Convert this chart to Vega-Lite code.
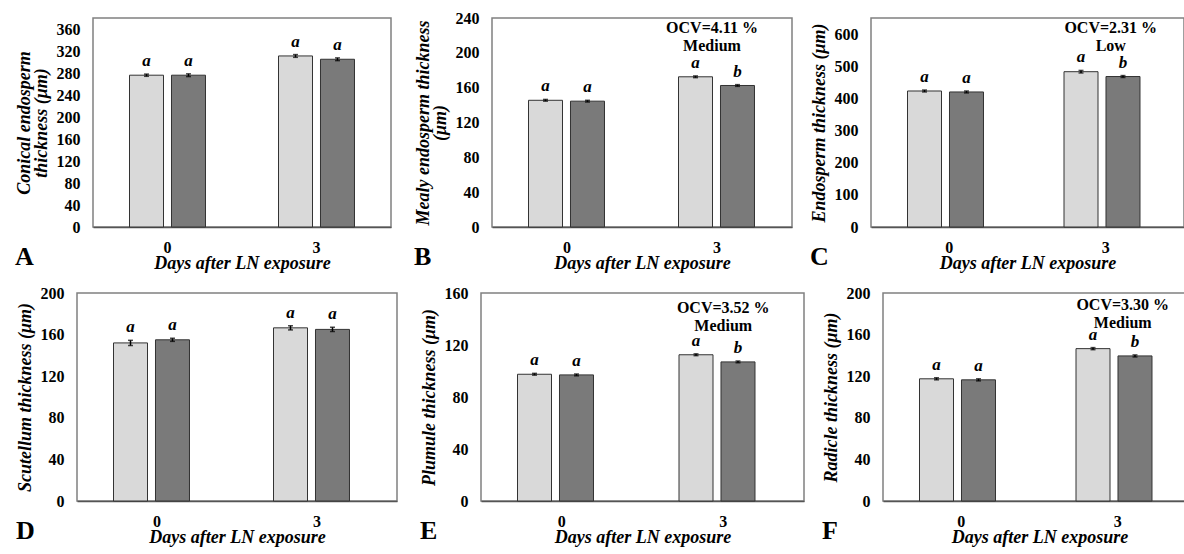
{
  "$schema": "https://vega.github.io/schema/vega-lite/v6.json",
  "padding": {"left": 0, "top": 9, "right": 0, "bottom": 0},
  "background": "white",
  "datasets": {
    "bars": [
      {"panel": "A", "day": "0", "g": "1", "value": 276, "lo": 274, "hi": 278, "letter": "a"},
      {"panel": "A", "day": "0", "g": "2", "value": 276, "lo": 273.5, "hi": 278.5, "letter": "a"},
      {"panel": "A", "day": "3", "g": "1", "value": 311, "lo": 308.5, "hi": 313.5, "letter": "a"},
      {"panel": "A", "day": "3", "g": "2", "value": 305, "lo": 302.5, "hi": 307.5, "letter": "a"},
      {"panel": "B", "day": "0", "g": "1", "value": 145.5, "lo": 144.5, "hi": 146.5, "letter": "a"},
      {"panel": "B", "day": "0", "g": "2", "value": 144.5, "lo": 143.5, "hi": 145.5, "letter": "a"},
      {"panel": "B", "day": "3", "g": "1", "value": 172.5, "lo": 171.5, "hi": 173.5, "letter": "a"},
      {"panel": "B", "day": "3", "g": "2", "value": 162.5, "lo": 161.5, "hi": 163.5, "letter": "b"},
      {"panel": "C", "day": "0", "g": "1", "value": 423, "lo": 420, "hi": 426, "letter": "a"},
      {"panel": "C", "day": "0", "g": "2", "value": 420, "lo": 417, "hi": 423, "letter": "a"},
      {"panel": "C", "day": "3", "g": "1", "value": 483, "lo": 479, "hi": 487, "letter": "a"},
      {"panel": "C", "day": "3", "g": "2", "value": 468, "lo": 465, "hi": 471, "letter": "b"},
      {"panel": "D", "day": "0", "g": "1", "value": 152, "lo": 149.5, "hi": 154.5, "letter": "a"},
      {"panel": "D", "day": "0", "g": "2", "value": 155, "lo": 153.5, "hi": 156.5, "letter": "a"},
      {"panel": "D", "day": "3", "g": "1", "value": 166.5, "lo": 164.5, "hi": 168.5, "letter": "a"},
      {"panel": "D", "day": "3", "g": "2", "value": 165, "lo": 163, "hi": 167, "letter": "a"},
      {"panel": "E", "day": "0", "g": "1", "value": 97.5, "lo": 96.8, "hi": 98.2, "letter": "a"},
      {"panel": "E", "day": "0", "g": "2", "value": 97, "lo": 96.3, "hi": 97.7, "letter": "a"},
      {"panel": "E", "day": "3", "g": "1", "value": 112.5, "lo": 111.8, "hi": 113.2, "letter": "a"},
      {"panel": "E", "day": "3", "g": "2", "value": 107, "lo": 106.3, "hi": 107.7, "letter": "b"},
      {"panel": "F", "day": "0", "g": "1", "value": 117.5, "lo": 116.5, "hi": 118.5, "letter": "a"},
      {"panel": "F", "day": "0", "g": "2", "value": 116.5, "lo": 115.5, "hi": 117.5, "letter": "a"},
      {"panel": "F", "day": "3", "g": "1", "value": 146.5, "lo": 145.5, "hi": 147.5, "letter": "a"},
      {"panel": "F", "day": "3", "g": "2", "value": 139.5, "lo": 138.5, "hi": 140.5, "letter": "b"}
    ],
    "notes": [
      {"panel": "B", "day": "3", "note": "OCV=4.11 %\nMedium", "y": 238},
      {"panel": "C", "day": "3", "note": "OCV=2.31 %\nLow", "y": 644},
      {"panel": "E", "day": "3", "note": "OCV=3.52 %\nMedium", "y": 155},
      {"panel": "F", "day": "3", "note": "OCV=3.30 %\nMedium", "y": 196}
    ],
    "blank": [{"s": ""}]
  },
  "config": {
    "font": "Liberation Serif",
    "view": {"stroke": "#808080", "strokeWidth": 1.5},
    "axis": {
      "labelFont": "Liberation Serif", "labelFontWeight": "bold", "labelFontSize": 16, "labelColor": "black", "labelOverlap": false,
      "titleFont": "Liberation Serif", "titleFontStyle": "italic", "titleFontWeight": "bold", "titleFontSize": 18, "titleColor": "black",
      "grid": false, "ticks": false, "tickSize": 0
    },
    "axisY": {"domain": false, "labelPadding": 13, "titlePadding": 6, "titleLineHeight": 17},
    "axisX": {"domain": true, "domainColor": "#555555", "domainWidth": 1.5, "labelAngle": 0, "labelPadding": 12, "titlePadding": -1, "titleFontSize": 18},
    "title": {"font": "Liberation Serif", "fontWeight": "bold", "fontSize": 26, "color": "black", "orient": "bottom", "anchor": "start", "frame": "bounds", "offset": -28},
    "text": {"font": "Liberation Serif"}
  },
  "spacing": 11,
  "vconcat": [
    {
      "spacing": 0,
      "hconcat": [
        {"width": 14, "height": 1, "view": {"stroke": null}, "data": {"name": "blank"}, "mark": {"type": "text"}, "encoding": {"text": {"field": "s"}}},
        {
          "width": 298, "height": 209,
          "title": "A",
          "data": {"name": "bars"},
          "transform": [{"filter": "datum.panel == 'A'"}],
          "layer": [
            {"mark": {"type": "bar", "stroke": "#333333", "strokeWidth": 1},
             "encoding": {
               "x": {"field": "day", "type": "nominal", "scale": {"domain": ["0", "3"], "paddingInner": 0, "paddingOuter": 0}, "axis": {"title": "Days after LN exposure"}},
               "xOffset": {"field": "g", "type": "nominal", "scale": {"domain": ["1", "2"], "paddingInner": 0.19, "paddingOuter": 0.87}},
               "y": {"field": "value", "type": "quantitative", "scale": {"domain": [0, 380], "nice": false}, "axis": {"values": [0, 40, 80, 120, 160, 200, 240, 280, 320, 360], "tickCount": 30, "labelOverlap": false, "title": ["Conical endosperm", "thickness (μm)"]}},
               "color": {"field": "g", "type": "nominal", "scale": {"domain": ["1", "2"], "range": ["#d9d9d9", "#7a7a7a"]}, "legend": null}
             }},
            {"mark": {"type": "rule", "color": "black", "strokeWidth": 1.5},
             "encoding": {"x": {"field": "day", "type": "nominal"}, "xOffset": {"field": "g", "type": "nominal"}, "y": {"field": "lo", "type": "quantitative"}, "y2": {"field": "hi"}}},
            {"mark": {"type": "tick", "color": "black", "thickness": 1.5, "size": 5},
             "encoding": {"x": {"field": "day", "type": "nominal"}, "xOffset": {"field": "g", "type": "nominal"}, "y": {"field": "hi", "type": "quantitative"}}},
            {"mark": {"type": "tick", "color": "black", "thickness": 1.5, "size": 5},
             "encoding": {"x": {"field": "day", "type": "nominal"}, "xOffset": {"field": "g", "type": "nominal"}, "y": {"field": "lo", "type": "quantitative"}}},
            {"mark": {"type": "text", "fontStyle": "italic", "fontWeight": "bold", "fontSize": 17, "baseline": "bottom", "dy": -4},
             "encoding": {"x": {"field": "day", "type": "nominal"}, "xOffset": {"field": "g", "type": "nominal"}, "y": {"field": "hi", "type": "quantitative"}, "text": {"field": "letter"}}}
          ]
        },
        {"width": 21, "height": 1, "view": {"stroke": null}, "data": {"name": "blank"}, "mark": {"type": "text"}, "encoding": {"text": {"field": "s"}}},
        {
          "width": 300, "height": 209,
          "title": "B",
          "data": {"name": "bars"},
          "transform": [{"filter": "datum.panel == 'B'"}],
          "layer": [
            {"mark": {"type": "bar", "stroke": "#333333", "strokeWidth": 1},
             "encoding": {
               "x": {"field": "day", "type": "nominal", "scale": {"domain": ["0", "3"], "paddingInner": 0, "paddingOuter": 0}, "axis": {"title": "Days after LN exposure"}},
               "xOffset": {"field": "g", "type": "nominal", "scale": {"domain": ["1", "2"], "paddingInner": 0.19, "paddingOuter": 0.87}},
               "y": {"field": "value", "type": "quantitative", "scale": {"domain": [0, 240], "nice": false}, "axis": {"values": [0, 40, 80, 120, 160, 200, 240], "tickCount": 30, "labelOverlap": false, "title": ["Mealy endosperm thickness", "(μm)"]}},
               "color": {"field": "g", "type": "nominal", "scale": {"domain": ["1", "2"], "range": ["#d9d9d9", "#7a7a7a"]}, "legend": null}
             }},
            {"mark": {"type": "rule", "color": "black", "strokeWidth": 1.5},
             "encoding": {"x": {"field": "day", "type": "nominal"}, "xOffset": {"field": "g", "type": "nominal"}, "y": {"field": "lo", "type": "quantitative"}, "y2": {"field": "hi"}}},
            {"mark": {"type": "tick", "color": "black", "thickness": 1.5, "size": 5},
             "encoding": {"x": {"field": "day", "type": "nominal"}, "xOffset": {"field": "g", "type": "nominal"}, "y": {"field": "hi", "type": "quantitative"}}},
            {"mark": {"type": "tick", "color": "black", "thickness": 1.5, "size": 5},
             "encoding": {"x": {"field": "day", "type": "nominal"}, "xOffset": {"field": "g", "type": "nominal"}, "y": {"field": "lo", "type": "quantitative"}}},
            {"mark": {"type": "text", "fontStyle": "italic", "fontWeight": "bold", "fontSize": 17, "baseline": "bottom", "dy": -4},
             "encoding": {"x": {"field": "day", "type": "nominal"}, "xOffset": {"field": "g", "type": "nominal"}, "y": {"field": "hi", "type": "quantitative"}, "text": {"field": "letter"}}},
            {"data": {"name": "notes"},
             "transform": [{"filter": "datum.panel == 'B'"}],
             "mark": {"type": "text", "fontWeight": "bold", "fontSize": 16, "baseline": "top", "lineBreak": "\n", "lineHeight": 18, "dx": -5},
             "encoding": {"x": {"field": "day", "type": "nominal"}, "y": {"field": "y", "type": "quantitative"}, "text": {"field": "note"}}}
          ]
        },
        {"width": 16, "height": 1, "view": {"stroke": null}, "data": {"name": "blank"}, "mark": {"type": "text"}, "encoding": {"text": {"field": "s"}}},
        {
          "width": 313, "height": 209,
          "title": "C",
          "data": {"name": "bars"},
          "transform": [{"filter": "datum.panel == 'C'"}],
          "layer": [
            {"mark": {"type": "bar", "stroke": "#333333", "strokeWidth": 1},
             "encoding": {
               "x": {"field": "day", "type": "nominal", "scale": {"domain": ["0", "3"], "paddingInner": 0, "paddingOuter": 0}, "axis": {"title": "Days after LN exposure"}},
               "xOffset": {"field": "g", "type": "nominal", "scale": {"domain": ["1", "2"], "paddingInner": 0.19, "paddingOuter": 0.87}},
               "y": {"field": "value", "type": "quantitative", "scale": {"domain": [0, 650], "nice": false}, "axis": {"values": [0, 100, 200, 300, 400, 500, 600], "tickCount": 30, "labelOverlap": false, "title": "Endosperm thickness (μm)"}},
               "color": {"field": "g", "type": "nominal", "scale": {"domain": ["1", "2"], "range": ["#d9d9d9", "#7a7a7a"]}, "legend": null}
             }},
            {"mark": {"type": "rule", "color": "black", "strokeWidth": 1.5},
             "encoding": {"x": {"field": "day", "type": "nominal"}, "xOffset": {"field": "g", "type": "nominal"}, "y": {"field": "lo", "type": "quantitative"}, "y2": {"field": "hi"}}},
            {"mark": {"type": "tick", "color": "black", "thickness": 1.5, "size": 5},
             "encoding": {"x": {"field": "day", "type": "nominal"}, "xOffset": {"field": "g", "type": "nominal"}, "y": {"field": "hi", "type": "quantitative"}}},
            {"mark": {"type": "tick", "color": "black", "thickness": 1.5, "size": 5},
             "encoding": {"x": {"field": "day", "type": "nominal"}, "xOffset": {"field": "g", "type": "nominal"}, "y": {"field": "lo", "type": "quantitative"}}},
            {"mark": {"type": "text", "fontStyle": "italic", "fontWeight": "bold", "fontSize": 17, "baseline": "bottom", "dy": -4},
             "encoding": {"x": {"field": "day", "type": "nominal"}, "xOffset": {"field": "g", "type": "nominal"}, "y": {"field": "hi", "type": "quantitative"}, "text": {"field": "letter"}}},
            {"data": {"name": "notes"},
             "transform": [{"filter": "datum.panel == 'C'"}],
             "mark": {"type": "text", "fontWeight": "bold", "fontSize": 16, "baseline": "top", "lineBreak": "\n", "lineHeight": 18, "dx": 5},
             "encoding": {"x": {"field": "day", "type": "nominal"}, "y": {"field": "y", "type": "quantitative"}, "text": {"field": "note"}}}
          ]
        }
      ]
    },
    {
      "spacing": 0,
      "hconcat": [
        {"width": 15, "height": 1, "view": {"stroke": null}, "data": {"name": "blank"}, "mark": {"type": "text"}, "encoding": {"text": {"field": "s"}}},
        {
          "width": 320, "height": 208,
          "title": "D",
          "data": {"name": "bars"},
          "transform": [{"filter": "datum.panel == 'D'"}],
          "layer": [
            {"mark": {"type": "bar", "stroke": "#333333", "strokeWidth": 1},
             "encoding": {
               "x": {"field": "day", "type": "nominal", "scale": {"domain": ["0", "3"], "paddingInner": 0, "paddingOuter": 0}, "axis": {"title": "Days after LN exposure"}},
               "xOffset": {"field": "g", "type": "nominal", "scale": {"domain": ["1", "2"], "paddingInner": 0.19, "paddingOuter": 0.87}},
               "y": {"field": "value", "type": "quantitative", "scale": {"domain": [0, 200], "nice": false}, "axis": {"values": [0, 40, 80, 120, 160, 200], "tickCount": 30, "labelOverlap": false, "title": "Scutellum thickness (μm)"}},
               "color": {"field": "g", "type": "nominal", "scale": {"domain": ["1", "2"], "range": ["#d9d9d9", "#7a7a7a"]}, "legend": null}
             }},
            {"mark": {"type": "rule", "color": "black", "strokeWidth": 1.5},
             "encoding": {"x": {"field": "day", "type": "nominal"}, "xOffset": {"field": "g", "type": "nominal"}, "y": {"field": "lo", "type": "quantitative"}, "y2": {"field": "hi"}}},
            {"mark": {"type": "tick", "color": "black", "thickness": 1.5, "size": 5},
             "encoding": {"x": {"field": "day", "type": "nominal"}, "xOffset": {"field": "g", "type": "nominal"}, "y": {"field": "hi", "type": "quantitative"}}},
            {"mark": {"type": "tick", "color": "black", "thickness": 1.5, "size": 5},
             "encoding": {"x": {"field": "day", "type": "nominal"}, "xOffset": {"field": "g", "type": "nominal"}, "y": {"field": "lo", "type": "quantitative"}}},
            {"mark": {"type": "text", "fontStyle": "italic", "fontWeight": "bold", "fontSize": 17, "baseline": "bottom", "dy": -4},
             "encoding": {"x": {"field": "day", "type": "nominal"}, "xOffset": {"field": "g", "type": "nominal"}, "y": {"field": "hi", "type": "quantitative"}, "text": {"field": "letter"}}}
          ]
        },
        {"width": 21, "height": 1, "view": {"stroke": null}, "data": {"name": "blank"}, "mark": {"type": "text"}, "encoding": {"text": {"field": "s"}}},
        {
          "width": 323, "height": 208,
          "title": "E",
          "data": {"name": "bars"},
          "transform": [{"filter": "datum.panel == 'E'"}],
          "layer": [
            {"mark": {"type": "bar", "stroke": "#333333", "strokeWidth": 1},
             "encoding": {
               "x": {"field": "day", "type": "nominal", "scale": {"domain": ["0", "3"], "paddingInner": 0, "paddingOuter": 0}, "axis": {"title": "Days after LN exposure"}},
               "xOffset": {"field": "g", "type": "nominal", "scale": {"domain": ["1", "2"], "paddingInner": 0.19, "paddingOuter": 0.87}},
               "y": {"field": "value", "type": "quantitative", "scale": {"domain": [0, 160], "nice": false}, "axis": {"values": [0, 40, 80, 120, 160], "tickCount": 30, "labelOverlap": false, "title": "Plumule thickness (μm)"}},
               "color": {"field": "g", "type": "nominal", "scale": {"domain": ["1", "2"], "range": ["#d9d9d9", "#7a7a7a"]}, "legend": null}
             }},
            {"mark": {"type": "rule", "color": "black", "strokeWidth": 1.5},
             "encoding": {"x": {"field": "day", "type": "nominal"}, "xOffset": {"field": "g", "type": "nominal"}, "y": {"field": "lo", "type": "quantitative"}, "y2": {"field": "hi"}}},
            {"mark": {"type": "tick", "color": "black", "thickness": 1.5, "size": 5},
             "encoding": {"x": {"field": "day", "type": "nominal"}, "xOffset": {"field": "g", "type": "nominal"}, "y": {"field": "hi", "type": "quantitative"}}},
            {"mark": {"type": "tick", "color": "black", "thickness": 1.5, "size": 5},
             "encoding": {"x": {"field": "day", "type": "nominal"}, "xOffset": {"field": "g", "type": "nominal"}, "y": {"field": "lo", "type": "quantitative"}}},
            {"mark": {"type": "text", "fontStyle": "italic", "fontWeight": "bold", "fontSize": 17, "baseline": "bottom", "dy": -4},
             "encoding": {"x": {"field": "day", "type": "nominal"}, "xOffset": {"field": "g", "type": "nominal"}, "y": {"field": "hi", "type": "quantitative"}, "text": {"field": "letter"}}},
            {"data": {"name": "notes"},
             "transform": [{"filter": "datum.panel == 'E'"}],
             "mark": {"type": "text", "fontWeight": "bold", "fontSize": 16, "baseline": "top", "lineBreak": "\n", "lineHeight": 18},
             "encoding": {"x": {"field": "day", "type": "nominal"}, "y": {"field": "y", "type": "quantitative"}, "text": {"field": "note"}}}
          ]
        },
        {"width": 16, "height": 1, "view": {"stroke": null}, "data": {"name": "blank"}, "mark": {"type": "text"}, "encoding": {"text": {"field": "s"}}},
        {
          "width": 313, "height": 208,
          "title": "F",
          "data": {"name": "bars"},
          "transform": [{"filter": "datum.panel == 'F'"}],
          "layer": [
            {"mark": {"type": "bar", "stroke": "#333333", "strokeWidth": 1},
             "encoding": {
               "x": {"field": "day", "type": "nominal", "scale": {"domain": ["0", "3"], "paddingInner": 0, "paddingOuter": 0}, "axis": {"title": "Days after LN exposure"}},
               "xOffset": {"field": "g", "type": "nominal", "scale": {"domain": ["1", "2"], "paddingInner": 0.19, "paddingOuter": 0.87}},
               "y": {"field": "value", "type": "quantitative", "scale": {"domain": [0, 200], "nice": false}, "axis": {"values": [0, 40, 80, 120, 160, 200], "tickCount": 30, "labelOverlap": false, "title": "Radicle thickness (μm)"}},
               "color": {"field": "g", "type": "nominal", "scale": {"domain": ["1", "2"], "range": ["#d9d9d9", "#7a7a7a"]}, "legend": null}
             }},
            {"mark": {"type": "rule", "color": "black", "strokeWidth": 1.5},
             "encoding": {"x": {"field": "day", "type": "nominal"}, "xOffset": {"field": "g", "type": "nominal"}, "y": {"field": "lo", "type": "quantitative"}, "y2": {"field": "hi"}}},
            {"mark": {"type": "tick", "color": "black", "thickness": 1.5, "size": 5},
             "encoding": {"x": {"field": "day", "type": "nominal"}, "xOffset": {"field": "g", "type": "nominal"}, "y": {"field": "hi", "type": "quantitative"}}},
            {"mark": {"type": "tick", "color": "black", "thickness": 1.5, "size": 5},
             "encoding": {"x": {"field": "day", "type": "nominal"}, "xOffset": {"field": "g", "type": "nominal"}, "y": {"field": "lo", "type": "quantitative"}}},
            {"mark": {"type": "text", "fontStyle": "italic", "fontWeight": "bold", "fontSize": 17, "baseline": "bottom", "dy": -4},
             "encoding": {"x": {"field": "day", "type": "nominal"}, "xOffset": {"field": "g", "type": "nominal"}, "y": {"field": "hi", "type": "quantitative"}, "text": {"field": "letter"}}},
            {"data": {"name": "notes"},
             "transform": [{"filter": "datum.panel == 'F'"}],
             "mark": {"type": "text", "fontWeight": "bold", "fontSize": 16, "baseline": "top", "lineBreak": "\n", "lineHeight": 18, "dx": 5},
             "encoding": {"x": {"field": "day", "type": "nominal"}, "y": {"field": "y", "type": "quantitative"}, "text": {"field": "note"}}}
          ]
        }
      ]
    }
  ]
}
